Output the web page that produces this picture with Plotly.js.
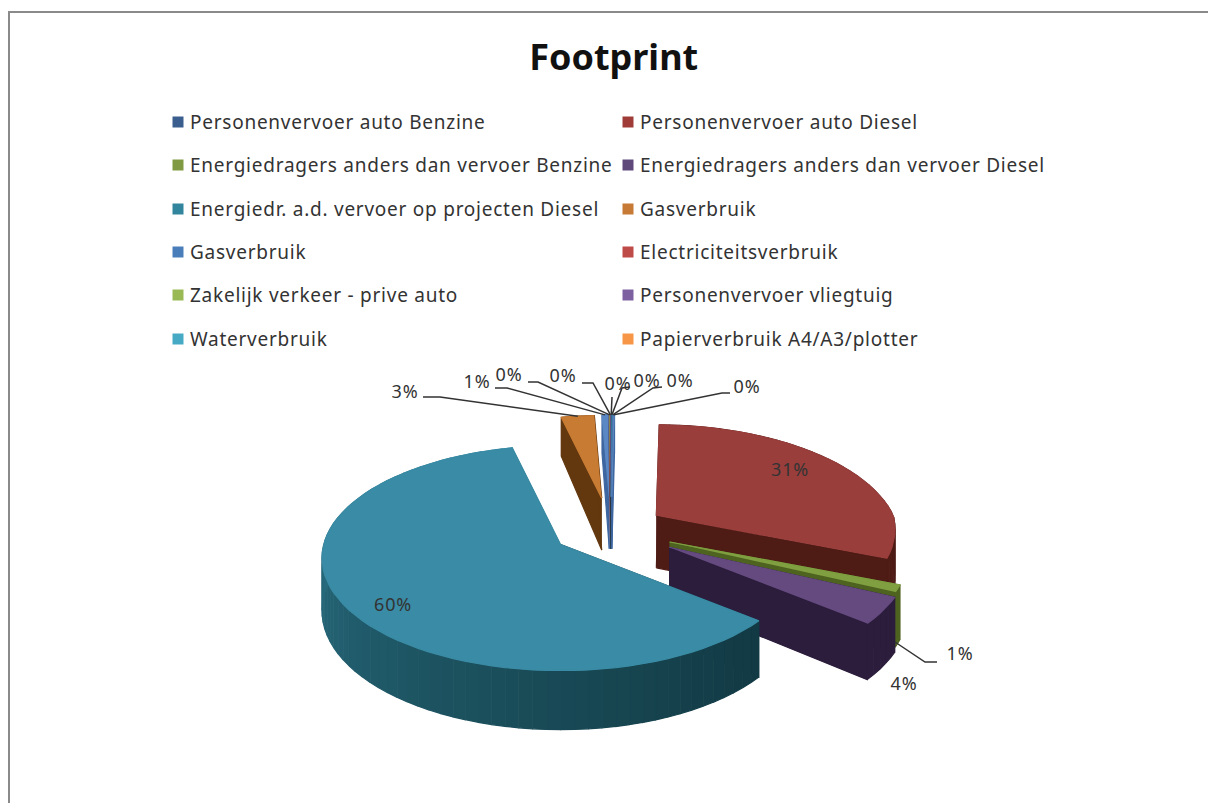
<!DOCTYPE html>
<html><head><meta charset="utf-8">
<script src="https://cdn.plot.ly/plotly-3.0.1.min.js"></script>
<style>html,body{margin:0;padding:0;background:#fff}#c{width:1208px;height:803px}
.textpoint text{letter-spacing:0.75px}</style>
</head><body><div id="c"></div>
<script>
const categories = ["Personenvervoer auto Benzine","Personenvervoer auto Diesel","Energiedragers anders dan vervoer Benzine","Energiedragers anders dan vervoer Diesel","Energiedr. a.d. vervoer op projecten Diesel","Gasverbruik","Gasverbruik","Electriciteitsverbruik","Zakelijk verkeer - prive auto","Personenvervoer vliegtuig","Waterverbruik","Papierverbruik A4/A3/plotter"];
const values = [0.1,30.8,1.0,3.9,60.4,3.0,0.55,0.05,0.05,0.05,0.05,0.05];
const legendColors = ["#3A5F8F","#A03C38","#7F9A42","#5F497A","#31859C","#C67A35","#4A7EBB","#BE4B48","#98B954","#7D60A0","#46AAC5","#F79646"];
const topColors = ["#5A86BE","#9A3E3C","#7F9F40","#654A80","#3A8BA5","#C87B33","#5A88C4","#B86A70","#98B954","#7D60A0","#46AAC5","#5A88C4"];
const wallStart = ["#3E66A0","#4E1B15","#4F6320","#2C1D3C","#123A44","#63380F","#3E66A0","#6A3A50","#4F6320","#2C1D3C","#1B5666","#3E66A0"];
const wallEnd = ["#3E66A0","#4E1B15","#4F6320","#2C1D3C","#33879E","#63380F","#3E66A0","#6A3A50","#4F6320","#2C1D3C","#1B5666","#3E66A0"];
const explode = [0.3,0.23,0.27,0.29,0.25,0.29,0.3,0.3,0.3,0.3,0.3,0.3];
const paintOrder = [5,6,7,8,9,10,11,0,1,2,3,4];
const labelAnchors = [[747,388],[790,471],[960,655],[904,685],[393,606],[405,393],[477,383],[509,376],[563,377],[618,385],[647,382],[680,382]];
const leaderStubs = [[[730,393],[722,393]],null,[[937,662],[925,662]],null,null,[[423,397],[440,397]],[[495,388],[507,388]],[[528,382],[538,382]],[[582,383],[593,383]],[[612,397],[612,397]],[[630,387],[622,388]],[[662,387],[653,388]]];
const legendCols = [178,628];
const legendRows = [124,167,211,254,297,341];

const CX=611, CY=530, RX=237, RY=111, K=0.119, M=0.79, DEPTH=52, ROT=0.5, TEXT_GAP=12;
const rad=d=>d*Math.PI/180;
const total=values.reduce((a,b)=>a+b,0);
const hex=c=>[1,3,5].map(i=>parseInt(c.substr(i,2),16));
const mix=(a,b,t)=>{const A=hex(a),B=hex(b);return 'rgb('+A.map((v,i)=>Math.round(v+(B[i]-v)*t)).join(',')+')';};

let acc=0;
const slices=values.map((v,i)=>{
  const a0=ROT+acc/total*360; acc+=v; const a1=ROT+acc/total*360;
  const m=rad((a0+a1)/2), e=explode[i];
  const back=Math.max(0,e*Math.cos(m));
  const apex=[CX+e*Math.sin(m)*RX, CY-e*Math.cos(m)*RY];
  const rim=(d)=>{const p=rad(d),c=Math.cos(p);const w=1+K*c+M*back*Math.max(0,c);
    return [apex[0]+RX*Math.sin(p)/w, apex[1]-RY*c/w, w];};
  return {i,a0,a1,apex,rim,back};
});
const traces=[];
const poly=(pts,color)=>traces.push({type:'scatter',mode:'lines',x:pts.map(p=>p[0]),y:pts.map(p=>p[1]),fill:'toself',fillcolor:color,line:{color:color,width:1.2},hoverinfo:'skip',showlegend:false});
const down=(p)=>[p[0],p[1]+DEPTH/(p[2]||1)];

paintOrder.forEach(idx=>{
  const s=slices[idx];
  const steps=Math.max(2,Math.ceil((s.a1-s.a0)/3));
  const arc=[];for(let j=0;j<=steps;j++)arc.push(s.rim(s.a0+(s.a1-s.a0)*j/steps));
  const ap=[s.apex[0],s.apex[1],1];
  const a=arc[0],b=arc[arc.length-1];
  poly([ap,a,down(a),down(ap)],wallStart[idx]);
  poly([ap,b,down(b),down(ap)],wallEnd[idx]);
  for(let j=0;j<steps;j++){
    poly([arc[j],arc[j+1],down(arc[j+1]),down(arc[j])],mix(wallStart[idx],wallEnd[idx],Math.pow(j/steps,1.1)));
  }
  poly([ap,...arc],topColors[idx]);
});

const pct=values.map(v=>Math.round(v/total*100)+'%');
leaderStubs.forEach((st,i)=>{
  if(!st)return;
  const s=slices[i];
  const end=s.rim((s.a0+s.a1)/2);
  const tgt=i===2?[895,642]:[end[0],end[1]];
  traces.push({type:'scatter',mode:'lines',x:[st[0][0],st[1][0],tgt[0]],y:[st[0][1],st[1][1],tgt[1]],line:{color:'#333',width:1.5},hoverinfo:'skip',showlegend:false});
});
traces.push({type:'scatter',mode:'text',x:labelAnchors.map(p=>p[0]),y:labelAnchors.map(p=>p[1]),text:pct,textposition:'middle center',textfont:{family:'Noto Sans',size:18,color:'#333'},hoverinfo:'skip',showlegend:false});
categories.forEach((c,i)=>{
  const lx=legendCols[i%2], ly=legendRows[Math.floor(i/2)];
  traces.push({type:'scatter',mode:'markers',name:c,x:[lx],y:[ly-2],marker:{symbol:'square',size:11,color:legendColors[i]},hoverinfo:'skip',showlegend:false});
  traces.push({type:'scatter',mode:'text',name:c,x:[lx+TEXT_GAP],y:[ly],text:[c],textposition:'middle right',textfont:{family:'Noto Sans',size:19,color:'#333'},hoverinfo:'skip',showlegend:false});
});
const layout={width:1208,height:803,margin:{l:0,r:0,t:0,b:0},paper_bgcolor:'#fff',plot_bgcolor:'#fff',showlegend:false,
  title:{text:'Footprint',x:0.508,xanchor:'center',y:0.928,yanchor:'middle',font:{family:'Noto Sans',size:36,color:'#111',weight:700}},
  xaxis:{range:[0,1208],visible:false,fixedrange:true},yaxis:{range:[803,0],visible:false,fixedrange:true},
  shapes:[{type:'rect',xref:'x',yref:'y',x0:9,y0:12,x1:1400,y1:1000,line:{color:'#8a8a8a',width:2},layer:'below'}]};
Plotly.newPlot('c',traces,layout,{displayModeBar:false,staticPlot:true});
</script></body></html>
